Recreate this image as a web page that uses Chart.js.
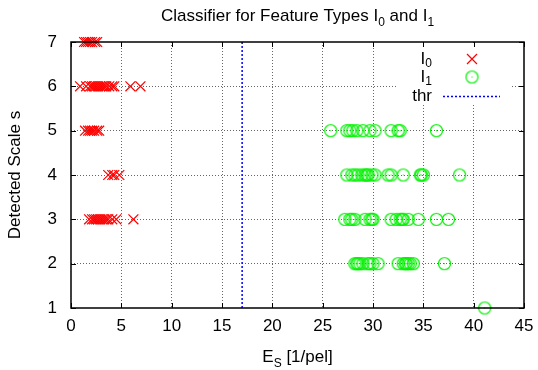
<!DOCTYPE html>
<html>
<head>
<meta charset="utf-8">
<script src="https://cdn.jsdelivr.net/npm/chart.js@4"></script>
<style>
  html, body { margin: 0; padding: 0; background: #fff; }
  #wrap { width: 538px; height: 370px; }
</style>
</head>
<body>
<div id="wrap"><canvas id="chart" width="538" height="370"></canvas></div>
<script>
// detected scale s (y) for each row, and E_S values found at that scale
const scales = [1, 2, 3, 4, 5, 6, 7];
const i0Energies = [
  [],
  [],
  [1.8, 2.1, 2.3, 2.5, 2.7, 2.9, 3.1, 3.3, 3.5, 3.7, 4.1, 4.5, 6.2],
  [3.7, 4.1, 4.3, 4.8],
  [1.4, 1.7, 1.9, 2.1, 2.3, 2.6, 2.8],
  [0.9, 1.5, 1.9, 2.1, 2.3, 2.5, 2.7, 2.9, 3.1, 3.3, 3.5, 3.8, 4.1, 4.3, 5.9, 6.9],
  [1.3, 1.5, 1.7, 1.9, 2.1, 2.4, 2.6]
];
const i1Energies = [
  [41.1],
  [28.2, 28.4, 28.5, 28.7, 29.0, 29.5, 29.7, 30.0, 30.5, 32.5, 33.0, 33.2, 33.3, 33.5, 33.7, 34.0, 37.1],
  [27.2, 27.7, 27.9, 28.2, 29.2, 29.7, 29.9, 30.0, 31.8, 32.3, 32.7, 32.9, 33.0, 33.5, 34.5, 36.3, 37.5],
  [27.4, 27.9, 28.2, 28.5, 28.9, 29.2, 29.4, 29.5, 29.9, 30.2, 31.5, 31.8, 33.0, 34.7, 34.8, 35.0, 38.6],
  [25.8, 27.4, 27.7, 28.0, 28.4, 29.0, 29.7, 30.2, 31.8, 32.5, 32.7, 36.3],
  [],
  []
];
const thrX = [17, 17];
const thrY = [1, 7];
const xTicks = [0, 5, 10, 15, 20, 25, 30, 35, 40, 45];
const yTicks = [1, 2, 3, 4, 5, 6, 7];

function toPoints(rows) {
  const pts = [];
  rows.forEach((row, i) => row.forEach(x => pts.push({ x: x, y: scales[i] })));
  return pts;
}

const FONT = "'Liberation Sans', Arial, sans-serif";

// gnuplot-like circle with a dot in the middle
const circleImg = document.createElement("canvas");
circleImg.width = 15;
circleImg.height = 15;
(function () {
  const c = circleImg.getContext("2d");
  c.strokeStyle = "#00f000";
  c.lineWidth = 1.2;
  c.beginPath();
  c.arc(7.5, 7.5, 6, 0, Math.PI * 2);
  c.stroke();
  c.fillStyle = "#00f000";
  c.fillRect(7, 7, 1, 1);
})();

// text with subscripts: parts = [[text, isSub], ...]
function drawParts(ctx, parts, x, y, align) {
  const big = "17px " + FONT;
  const small = "12px " + FONT;
  let w = 0;
  parts.forEach(p => { ctx.font = p[1] ? small : big; w += ctx.measureText(p[0]).width; });
  let cx = align === "center" ? x - w / 2 : align === "right" ? x - w : x;
  ctx.textAlign = "left";
  parts.forEach(p => {
    ctx.font = p[1] ? small : big;
    ctx.fillText(p[0], cx, p[1] ? y + 5 : y);
    cx += ctx.measureText(p[0]).width;
  });
}

const decor = {
  id: "decor",
  beforeDatasetsDraw(chart) {
    const ctx = chart.ctx;
    ctx.save();
    ctx.fillStyle = "#fff";
    ctx.fillRect(396, 43, 116, 62);
    ctx.restore();
  },
  afterDraw(chart) {
    const ctx = chart.ctx;
    const a = chart.chartArea;
    const xs = chart.scales.x, ys = chart.scales.y;
    ctx.save();
    // inward tick marks
    ctx.strokeStyle = "#000";
    ctx.lineWidth = 1;
    ctx.beginPath();
    xTicks.forEach(v => {
      const px = Math.round(xs.getPixelForValue(v)) + 0.5;
      ctx.moveTo(px, a.bottom); ctx.lineTo(px, a.bottom - 5);
      ctx.moveTo(px, a.top); ctx.lineTo(px, a.top + 5);
    });
    yTicks.forEach(v => {
      const py = Math.round(ys.getPixelForValue(v)) + 0.5;
      ctx.moveTo(a.left, py); ctx.lineTo(a.left + 5, py);
      ctx.moveTo(a.right, py); ctx.lineTo(a.right - 5, py);
    });
    ctx.stroke();
    ctx.lineWidth = 1.5;
    ctx.strokeRect(a.left, a.top, a.right - a.left, a.bottom - a.top);

    // titles
    ctx.fillStyle = "#000";
    ctx.textBaseline = "alphabetic";
    const cx = (a.left + a.right) / 2;
    drawParts(ctx, [["Classifier for Feature Types I", false], ["0", true], [" and I", false], ["1", true]], cx, 21, "center");
    drawParts(ctx, [["E", false], ["S", true], [" [1/pel]", false]], cx, 362, "center");
    ctx.save();
    ctx.translate(15, (a.top + a.bottom) / 2);
    ctx.rotate(-Math.PI / 2);
    ctx.textBaseline = "middle";
    ctx.textAlign = "center";
    ctx.font = "17px " + FONT;
    ctx.fillText("Detected Scale s", 0, 0);
    ctx.restore();

    // legend
    ctx.textBaseline = "middle";
    drawParts(ctx, [["I", false], ["0", true]], 432, 59, "right");
    drawParts(ctx, [["I", false], ["1", true]], 432, 77, "right");
    drawParts(ctx, [["thr", false]], 432, 96, "right");
    ctx.strokeStyle = "#ff0000";
    ctx.lineWidth = 1.2;
    ctx.beginPath();
    ctx.moveTo(467, 54); ctx.lineTo(477, 64);
    ctx.moveTo(477, 54); ctx.lineTo(467, 64);
    ctx.stroke();
    ctx.drawImage(circleImg, 472 - 7.5, 77 - 7.5);
    ctx.strokeStyle = "#0000ff";
    ctx.setLineDash([2, 2]);
    ctx.lineWidth = 1.5;
    ctx.beginPath();
    ctx.moveTo(443, 96.5); ctx.lineTo(500, 96.5);
    ctx.stroke();
    ctx.restore();
  }
};

new Chart(document.getElementById("chart"), {
  type: "scatter",
  data: {
    datasets: [
      {
        label: "thr",
        data: thrX.map((x, i) => ({ x: x, y: thrY[i] })),
        showLine: true,
        borderColor: "#0000ff",
        borderWidth: 1.5,
        borderDash: [2, 2],
        pointRadius: 0,
        clip: false
      },
      {
        label: "I0",
        data: toPoints(i0Energies),
        pointStyle: "crossRot",
        pointRadius: 7,
        borderColor: "#ff0000",
        borderWidth: 1.2,
        clip: false
      },
      {
        label: "I1",
        data: toPoints(i1Energies),
        pointStyle: circleImg,
        clip: false
      }
    ]
  },
  options: {
    responsive: false,
    animation: false,
    events: [],
    layout: { padding: { top: 42, right: 14, left: 0, bottom: 0 } },
    plugins: {
      legend: { display: false },
      title: { display: false },
      tooltip: { enabled: false }
    },
    scales: {
      x: {
        type: "linear",
        min: 0,
        max: 45,
        afterFit(s) { s.height = 62; s.paddingLeft = 0; s.paddingRight = 0; },
        afterBuildTicks(s) { s.ticks = xTicks.map(v => ({ value: v })); },
        ticks: { color: "#000", font: { family: FONT, size: 17 }, padding: 8, maxRotation: 0 },
        grid: {
          drawTicks: false,
          color: "rgba(0,0,0,0.6)",
          lineWidth: c => (c.tick && (c.tick.value === 0 || c.tick.value === 45) ? 0 : 1)
        },
        border: { display: false, dash: [1, 2] }
      },
      y: {
        type: "linear",
        min: 1,
        max: 7,
        afterFit(s) { s.width = 71; s.paddingTop = 0; s.paddingBottom = 0; },
        afterBuildTicks(s) { s.ticks = yTicks.map(v => ({ value: v })); },
        ticks: { color: "#000", font: { family: FONT, size: 17 }, padding: 14 },
        grid: {
          drawTicks: false,
          color: "rgba(0,0,0,0.6)",
          lineWidth: c => (c.tick && (c.tick.value === 1 || c.tick.value === 7) ? 0 : 1)
        },
        border: { display: false, dash: [1, 2] }
      }
    }
  },
  plugins: [decor]
});
</script>
</body>
</html>
